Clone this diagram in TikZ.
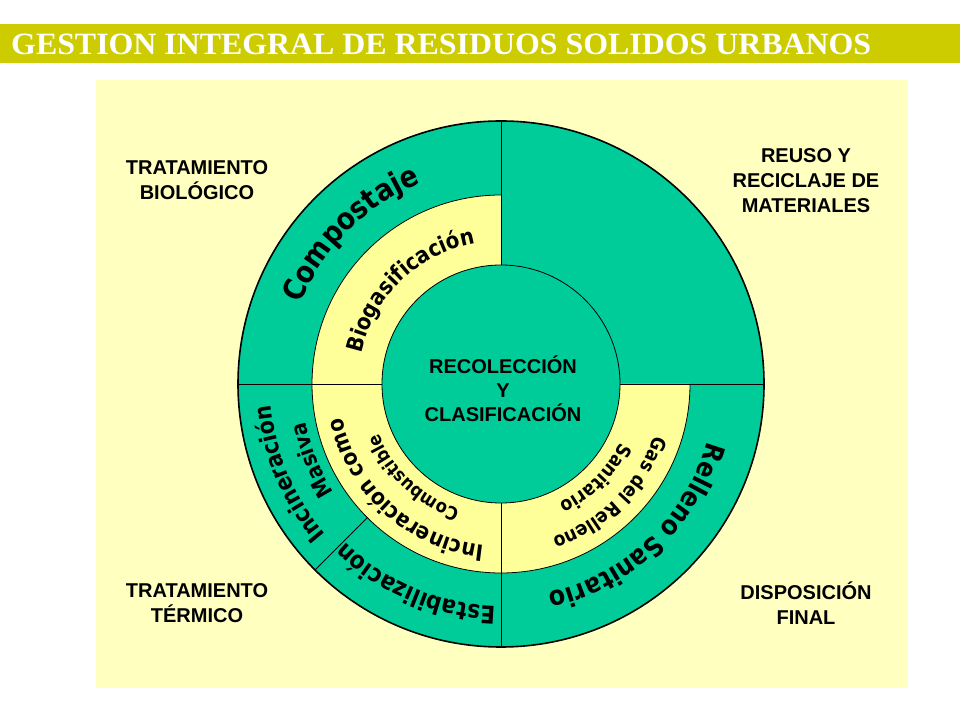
\documentclass[tikz,border=0pt]{standalone}
\usepackage{fontspec}
\setmainfont{Liberation Sans}
\newfontfamily\titlefont{Liberation Serif}
\newfontfamily\arcfont[FakeStretch=0.88]{DejaVu Sans}
\usetikzlibrary{decorations.text}
\definecolor{barcol}{HTML}{CCCC00}
\definecolor{panelcol}{HTML}{FFFFC0}
\definecolor{ringyel}{HTML}{FFFF99}
\definecolor{ringgreen}{HTML}{00CC99}
\tikzset{
  lbl/.style={font=\fontsize{20}{25}\selectfont\bfseries, align=center, inner sep=0pt, text=black},
  sepline/.style={draw=black, line width=0.8pt},
}
% #1 centre angle, #2 baseline radius, #3 font size, #4 text
\newcommand\ringtext[4]{%
  \path[decorate, decoration={text along path, text align=center,
    text={|\arcfont\bfseries\fontsize{#3}{#3}\selectfont|#4}}]
    (C) ++({#1+90}:#2) arc[start angle={#1+90}, end angle={#1-90}, radius=#2];}
\begin{document}
\begin{tikzpicture}[x=1pt,y=1pt]
\useasboundingbox (0,0) rectangle (960,720);
\fill[white] (0,0) rectangle (960,720);
% title bar
\fill[barcol] (0,657) rectangle (960,696);
\node[anchor=base west, inner sep=0pt, text=white] (title) at (11,665)
  {\resizebox{860pt}{\height}{\titlefont\bfseries\fontsize{31}{31}\selectfont GESTION INTEGRAL DE RESIDUOS SOLIDOS URBANOS}};
% panel
\fill[panelcol] (96,32) rectangle (908,640);
\coordinate (C) at (501,336);
% outer disc
\fill[ringgreen] (C) circle[radius=263];
% yellow middle ring (TL, BL, BR)
\fill[ringyel] (C) ++(90:189) arc[start angle=90, end angle=360, radius=189]
  -- ++(-70,0) arc[start angle=360, end angle=90, radius=119] -- cycle;
\draw[line width=0.8pt] (C) ++(90:189) arc[start angle=90, end angle=360, radius=189];
% inner disc
\filldraw[fill=ringgreen, draw=black, line width=0.8pt] (C) circle[radius=119];
% radial separators
\draw[sepline] (C) ++(90:119) -- ++(0,144);
\draw[sepline] (C) ++(180:119) -- ++(-144,0);
\draw[sepline] (C) ++(270:119) -- ++(0,-144);
\draw[sepline] (C) ++(0:119) -- ++(144,0);
\draw[sepline] (C) ++(225:189) -- ++(225:74);
% outer outline
\draw[black, line width=1.6pt] (C) circle[radius=263];
% ring texts
\ringtext{135}{216}{30}{Compostaje}
\ringtext{134}{143}{22.5}{Biogasificación}
\ringtext{-46.5}{214}{27}{Relleno Sanitario}
\ringtext{-45}{162}{19.5}{Gas del Relleno}
\ringtext{-45}{133}{19.5}{Sanitario}
\ringtext{203}{231}{23.5}{Incineración}
\ringtext{202}{199}{22}{Masiva}
\ringtext{247}{222}{24.5}{Estabilización}
\ringtext{228}{162}{22.5}{Incineración como}
\ringtext{227}{132}{18.5}{Combustible}
% labels
\node[lbl] (center) at (503,331) {RECOLECCIÓN\\[-1pt]Y\\[-1pt]CLASIFICACIÓN};
\node[lbl] (tl) at (197,539.5) {TRATAMIENTO\\BIOLÓGICO};
\node[lbl] (tr) at (806,539) {REUSO Y\\RECICLAJE DE\\MATERIALES};
\node[lbl] (bl) at (197,117) {TRATAMIENTO\\TÉRMICO};
\node[lbl] (br) at (806,117) {DISPOSICIÓN\\FINAL};
\end{tikzpicture}
\end{document}
